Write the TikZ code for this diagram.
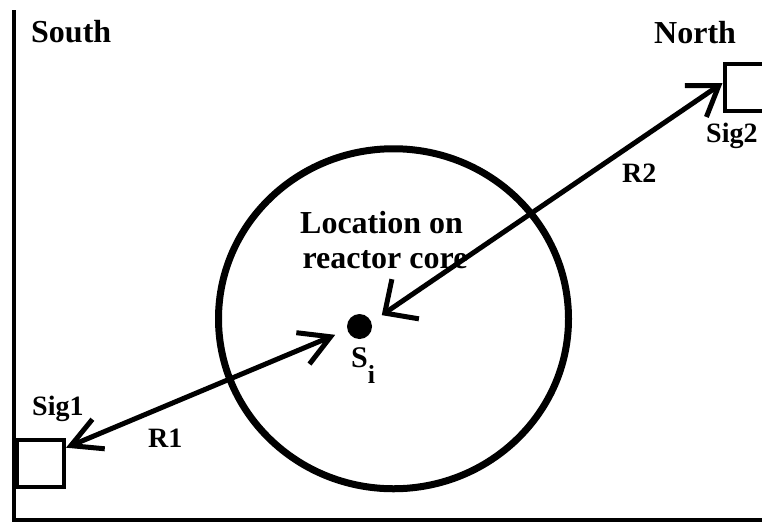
\documentclass[tikz,border=0pt]{standalone}
\usepackage{fontspec}
\setmainfont{Liberation Serif}
\usetikzlibrary{arrows.meta}
\begin{document}
\begin{tikzpicture}[x=1pt,y=-1pt,
  bigtext/.style={font=\fontsize{32}{35}\selectfont\bfseries, inner sep=0pt},
  smalltext/.style={font=\fontsize{28}{30}\selectfont\bfseries, inner sep=0pt},
  sigbox/.style={draw, line width=4pt, minimum width=47pt, minimum height=47pt, inner sep=0pt},
  conn/.style={line width=5pt, line cap=round, line join=round},
  frame/.style={line width=4.5pt},
  core/.style={line width=7pt}]
\useasboundingbox (0,0) rectangle (762,523);
\clip (0,0) rectangle (762,523);
% frame
\draw[frame] (14,10) -- (14,520) -- (766,520);
% reactor core
\draw[core] (393.5,318.75) ellipse [x radius=175, y radius=170];
% boxes
\node[sigbox] (sig1) at (40.5,463) {};
\node[sigbox] (sig2) at (748,87.5) {};
% source point
\node[circle, fill, minimum size=25pt, inner sep=0pt] (s) at (359.5,326.5) {};
% labels
\node[bigtext, anchor=base west] (south) at (31,42) {South};
\node[bigtext, anchor=base west] (north) at (654,43) {North};
\node[bigtext, anchor=base] (loc1) at (381.5,233) {Location on};
\node[bigtext, anchor=base] (loc2) at (385,268) {reactor core};
\node[smalltext, anchor=base west] (sig1lab) at (32,415) {Sig1};
\node[smalltext, anchor=base west] (sig2lab) at (706,142) {Sig2};
\node[smalltext, anchor=base west] (r1) at (148,447) {R1};
\node[smalltext, anchor=base west] (r2) at (622,182) {R2};
\node[anchor=base west, inner sep=0pt, font=\fontsize{30}{30}\selectfont\bfseries] (si) at (351,367) {S\raisebox{-16pt}{\fontsize{26}{26}\selectfont i}};
% connectors
\draw[conn, {Straight Barb[length=30pt,width=32pt]}-{Straight Barb[length=30pt,width=34pt]}, shorten >=13pt] (sig1.31) -- (s.195);
\draw[conn, {Straight Barb[length=25pt,width=48pt]}-{Straight Barb[length=28pt,width=38pt]}, shorten <=12.5pt] (s.20) -- (sig2.170);
\end{tikzpicture}
\end{document}
